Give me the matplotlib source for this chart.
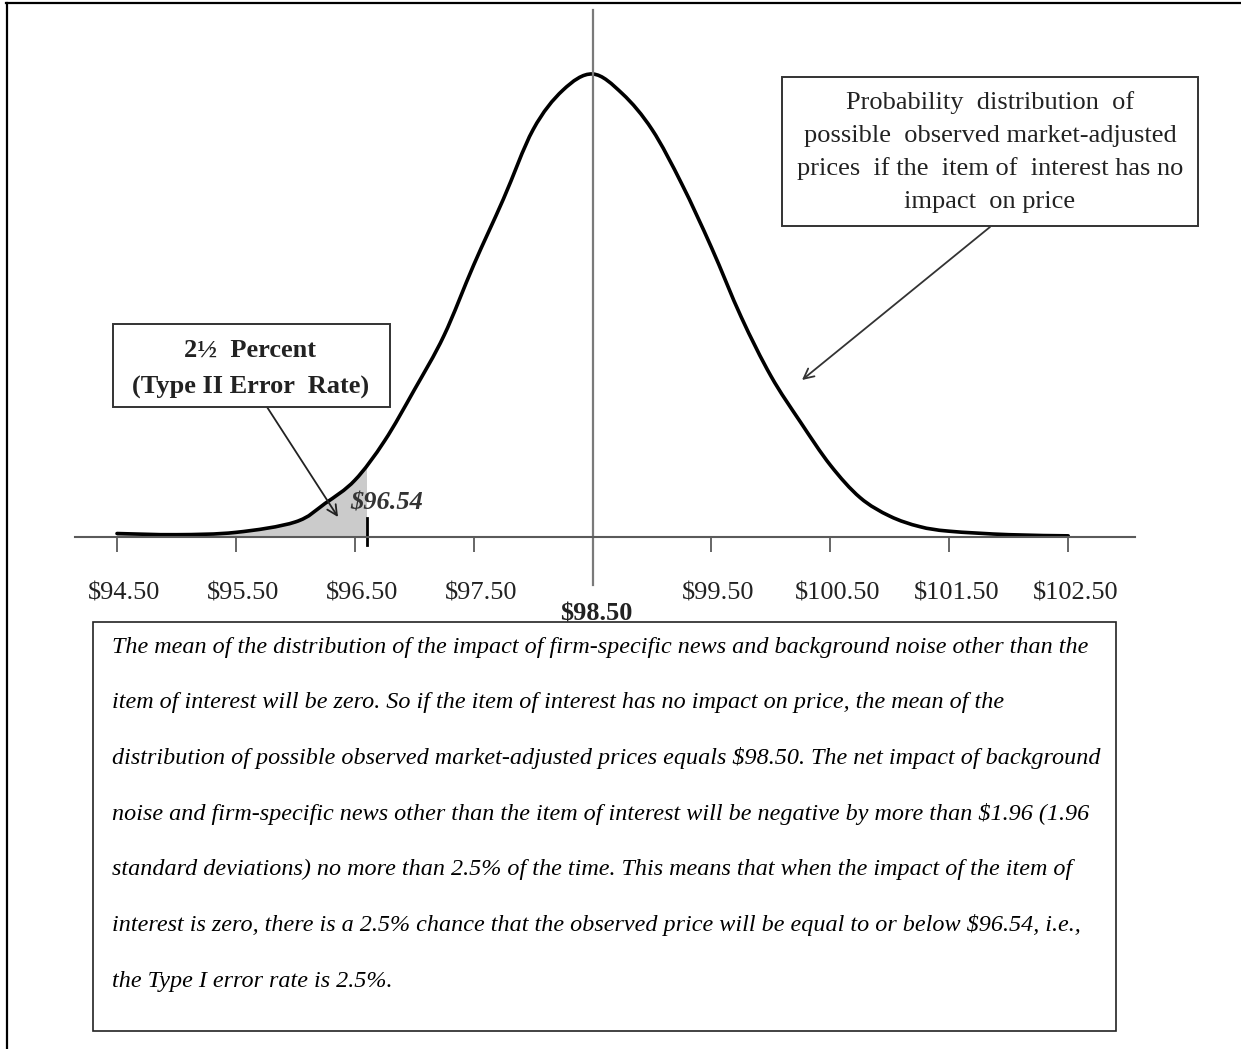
import numpy as np
import matplotlib
matplotlib.use("Agg")
import matplotlib.pyplot as plt
from matplotlib.patches import Rectangle, PathPatch
from matplotlib.path import Path
from matplotlib.transforms import ScaledTranslation

plt.rcParams['text.parse_math'] = False
plt.rcParams['font.family'] = ['Liberation Serif', 'DejaVu Serif']

# distribution curve (price, relative height)
price = [94.5, 95.0, 95.5, 96.0, 96.25, 96.5, 96.75, 97.0, 97.25,
         97.5, 97.75, 98.0, 98.25, 98.5, 98.75, 99.0, 99.25, 99.5, 99.75,
         100.0, 100.25, 100.5, 100.75, 101.0, 101.25, 101.5, 102.0, 102.5]
height = [0.003, 0.002, 0.004, 0.013, 0.029, 0.049, 0.083, 0.127, 0.174,
          0.235, 0.292, 0.352, 0.386, 0.400, 0.383, 0.352, 0.305, 0.250, 0.190,
          0.139, 0.099, 0.062, 0.034, 0.018, 0.009, 0.005, 0.002, 0.001]

tick_values = [94.5, 95.5, 96.5, 97.5, 99.5, 100.5, 101.5, 102.5]
tick_labels = ["$94.50", "$95.50", "$96.50", "$97.50", "$99.50", "$100.50", "$101.50", "$102.50"]
mean_price = 98.5
mean_label = "$98.50"
cutoff = 96.6          # where the marker sits in the picture
cutoff_label = "$96.54"

box_title = ["2\u00bd  Percent", "(Type II Error  Rate)"]
dist_note = ["Probability  distribution  of",
             "possible  observed market-adjusted",
             "prices  if the  item of  interest has no",
             "impact  on price"]
explanation = [
    "The mean of the distribution of the impact of firm-specific news and background noise other than the",
    "item of interest will be zero. So if the item of interest has no impact on price, the mean of the",
    "distribution of possible observed market-adjusted prices equals $98.50. The net impact of background",
    "noise and firm-specific news other than the item of interest will be negative by more than $1.96 (1.96",
    "standard deviations) no more than 2.5% of the time. This means that when the impact of the item of",
    "interest is zero, there is a 2.5% chance that the observed price will be equal to or below $96.54, i.e.,",
    "the Type I error rate is 2.5%.",
]

W, H = 1241, 1049
fig = plt.figure(figsize=(W / 100, H / 100), dpi=100)


def fx(px):
    return px / W


def fy(py):
    return 1 - py / H


def fp(px, py):
    # figure pixels, measured from the top
    return (px, H - py)


def smooth_path(xs, ys, close=False):
    # smoothed line through the points (like a spreadsheet "smoothed line")
    pts = np.column_stack([xs, ys])
    verts = [pts[0]]
    codes = [Path.MOVETO]
    n = len(pts)
    for i in range(n - 1):
        p0 = pts[max(i - 1, 0)]
        p1 = pts[i]
        p2 = pts[i + 1]
        p3 = pts[min(i + 2, n - 1)]
        verts += [p1 + (p2 - p0) / 6, p2 - (p3 - p1) / 6, p2]
        codes += [Path.CURVE4] * 3
    if close:
        verts += [(xs[-1], 0), (xs[0], 0), (xs[0], 0)]
        codes += [Path.LINETO, Path.LINETO, Path.CLOSEPOLY]
    return Path(verts, codes)


# chart area: axis line at y=537, from x=75 to x=1135
ax = fig.add_axes([fx(75), fy(537), fx(1135) - fx(75), (537 - 8) / H])
px_per_unit = 118.9
ax.set_xlim(94.5 - 42 / px_per_unit, 94.5 + 1018 / px_per_unit)
ax.set_ylim(0, 0.457)

# shaded tail: area under the same curve, cut at the marker
tail = PathPatch(smooth_path(price, height, close=True), fc='#cbcbcb', ec='none')
ax.add_patch(tail)
tail.set_clip_path(Rectangle((price[0], 0), cutoff - price[0], 1, transform=ax.transData))
ax.add_patch(PathPatch(smooth_path(price, height), fill=False, ec='black', lw=2.6,
                       capstyle='round', joinstyle='round'))

ax.axvline(mean_price, ymin=-48 / 529, ymax=527 / 529, color='#7a7a7a', lw=1.6, clip_on=False)
ax.axvline(cutoff, ymin=-8 / 529, ymax=19 / 529, color='black', lw=2, clip_on=False)

for s in ['top', 'right', 'left']:
    ax.spines[s].set_visible(False)
ax.spines['bottom'].set_color('#5a5a5a')
ax.spines['bottom'].set_linewidth(1.5)
ax.set_yticks([])
ax.set_xticks(tick_values)
ax.set_xticklabels(tick_labels)
ax.tick_params(axis='x', direction='out', length=11, width=1.3, color='#5a5a5a',
               labelsize=19, pad=21.5, labelcolor='#222222')
shift = ScaledTranslation(7 / 100, 0, fig.dpi_scale_trans)
for lab in ax.get_xticklabels():
    lab.set_transform(lab.get_transform() + shift)

ax.annotate(mean_label, xy=(mean_price, 0), xytext=(4, -77), textcoords='offset pixels',
            ha='center', va='center', fontsize=19, fontweight='bold', color='#222222')
ax.annotate(cutoff_label, xy=(cutoff, 0), xytext=(20, 34), textcoords='offset pixels',
            ha='center', va='center', fontsize=19, fontweight='bold', style='italic',
            color='#333333')

# outer frame (only top and left edges show)
fig.add_artist(plt.Line2D([fx(6), 1], [fy(3), fy(3)], color='black', lw=1.6))
fig.add_artist(plt.Line2D([fx(7), fx(7)], [fy(3), 0], color='black', lw=1.6))


def box(x0, y0, x1, y1, color='#333333', lw=1.4):
    fig.add_artist(Rectangle((fx(x0), fy(y1)), fx(x1) - fx(x0), fy(y0) - fy(y1),
                             transform=fig.transFigure, fill=False, ec=color, lw=lw))


# note about the distribution
box(782, 77, 1198, 226)
for i, line in enumerate(dist_note):
    fig.text(fx(990), fy(103 + 33 * i), line, ha='center', va='center', fontsize=19,
             color='#222222')
ax.annotate('', xy=fp(802, 380), xytext=fp(990, 227), xycoords='figure pixels',
            textcoords='figure pixels',
            arrowprops=dict(arrowstyle='->', color='#333333', lw=1.3, mutation_scale=18,
                            shrinkA=0, shrinkB=0))

# 2.5 percent box
box(113, 324, 390, 407)
fig.text(fx(250), fy(350), box_title[0], ha='center', va='center', fontsize=19,
         fontweight='bold', color='#222222')
fig.text(fx(251), fy(387), box_title[1], ha='center', va='center', fontsize=19,
         fontweight='bold', color='#222222')
ax.annotate('', xy=fp(338, 517), xytext=fp(267, 407), xycoords='figure pixels',
            textcoords='figure pixels',
            arrowprops=dict(arrowstyle='->', color='#222222', lw=1.3, mutation_scale=18,
                            shrinkA=0, shrinkB=0))

# explanation box
box(93, 622, 1116, 1031, color='#222222', lw=1.2)
for i, line in enumerate(explanation):
    fig.text(fx(112), fy(647 + 55.7 * i), line, ha='left', va='center', fontsize=17.4,
             style='italic', color='black')

fig.savefig('out.png', dpi=100)
